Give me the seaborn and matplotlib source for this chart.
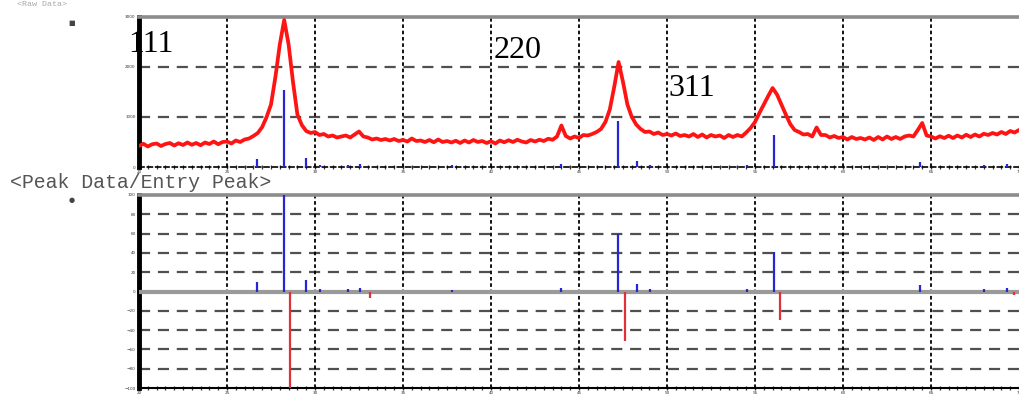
import numpy as np
import pandas as pd
import matplotlib
matplotlib.use("Agg")
import matplotlib.pyplot as plt
import seaborn as sns
from matplotlib.ticker import MultipleLocator

# ---------------- data ----------------
two_theta_start = 20.0
two_theta_step = 0.25
counts = [
    420, 465, 410, 455,   # 20
    470, 420, 460, 480,   # 21
    430, 475, 440, 490,   # 22
    445, 480, 435, 490,   # 23
    460, 510, 455, 500,   # 24
    510, 470, 530, 500,   # 25
    550, 570, 620, 680,   # 26
    800, 1000, 1250, 1800,   # 27
    2450, 2940, 2450, 1700,  # 28
    1050, 840, 720, 680,  # 29
    700, 640, 660, 610,   # 30
    630, 590, 610, 630,   # 31
    590, 650, 710, 610,   # 32
    590, 550, 570, 540,   # 33
    560, 530, 560, 520,   # 34
    540, 510, 570, 520,   # 35
    530, 500, 540, 495,   # 36
    550, 500, 520, 490,   # 37
    525, 480, 530, 490,   # 38
    540, 500, 520, 480,   # 39
    515, 470, 530, 495,   # 40
    535, 500, 545, 510,   # 41
    490, 540, 510, 545,   # 42
    520, 565, 545, 610,   # 43
    830, 620, 570, 610,   # 44
    580, 640, 630, 660,   # 45
    700, 760, 900, 1150,  # 46
    1600, 2100, 1700, 1250,  # 47
    1000, 850, 760, 700,  # 48
    710, 660, 690, 640,   # 49
    660, 630, 670, 620,   # 50
    640, 610, 660, 600,   # 51
    650, 590, 640, 610,   # 52
    630, 580, 640, 600,   # 53
    640, 610, 690, 780,   # 54
    900, 1080, 1250, 1420,  # 55
    1580, 1450, 1250, 1050,  # 56
    860, 740, 700, 650,   # 57
    660, 610, 790, 640,   # 58
    640, 590, 620, 580,   # 59
    600, 550, 600, 560,   # 60
    580, 550, 590, 540,   # 61
    600, 550, 610, 560,   # 62
    600, 560, 610, 630,   # 63
    610, 740, 880, 630,   # 64
    610, 570, 615, 580,   # 65
    625, 580, 630, 590,   # 66
    645, 600, 650, 610,   # 67
    665, 640, 680, 650,   # 68
    700, 660, 720, 690,   # 69
    740,                  # 70
]

# reference pattern (blue sticks), relative intensity %
ref_pos = [26.70, 28.23, 29.48, 30.27, 31.86, 32.54, 37.76, 44.00,
           47.24, 48.32, 49.06, 54.56, 56.09, 64.38, 68.01, 69.32]
ref_int = [10, 100, 12, 3, 3, 4, 2, 4,
           60, 8, 3, 3, 41, 7, 3, 4]
ref_to_counts = 15.4

# entry peaks (red sticks, drawn downward)
entry_pos = [28.57, 33.11, 47.64, 56.43, 69.72]
entry_int = [100, 7, 51, 30, 4]

peak_labels = ["111", "220", "311"]
label_x = [20.68, 41.51, 51.40]
label_y = [2440, 2320, 1580]

x_major = list(range(20, 71, 5))
top_yticks = [0, 1000, 2000, 3000]
bot_yticks = list(range(-100, 101, 20))

# ---------------- figure ----------------
sns.set_theme(style="white")
plt.rcParams['font.family'] = ['DejaVu Sans']

W, H = 1020, 401
fig = plt.figure(figsize=(W / 100, H / 100), dpi=100)
fig.patch.set_facecolor("white")
L, R = 139, 1019
ax1 = fig.add_axes([L / W, (H - 167) / H, (R - L) / W, 150 / H])
ax2 = fig.add_axes([L / W, (H - 388) / H, (R - L) / W, 193 / H])

two_theta = two_theta_start + two_theta_step * np.arange(len(counts))
df = pd.DataFrame({"2theta": two_theta, "counts": counts})
sns.lineplot(data=df, x="2theta", y="counts", ax=ax1, color="#ff1414",
             lw=2.7, zorder=4)
ax1.vlines(ref_pos, 0, np.array(ref_int) * ref_to_counts, color="#2626d6",
           lw=1.6, zorder=5)

ax2.vlines(ref_pos, 0, ref_int, color="#2626d6", lw=1.6, zorder=5)
ax2.vlines(entry_pos, 0, [-v for v in entry_int], color="#e0303a", lw=1.6, zorder=5)

for ax, yt, ylim in ((ax1, top_yticks, (0, 3000)), (ax2, bot_yticks, (-100, 100))):
    ax.set_xlim(20, 70)
    ax.set_ylim(*ylim)
    ax.set_xlabel("")
    ax.set_ylabel("")
    for xv in x_major[1:-1]:
        ax.axvline(xv, color="black", lw=1.3, ls=(0, (2, 1.5)), zorder=2)
    for yv in yt[1:-1]:
        if yv == 0:
            continue
        ax.axhline(yv, color="#505050", lw=1.6, ls=(0, (5, 3.5)), zorder=1)
    ax.set_xticks(x_major)
    ax.set_yticks(yt)
    ax.xaxis.set_minor_locator(MultipleLocator(0.5))
    ax.tick_params(axis="both", which="major", labelsize=3, colors="#333333",
                   length=3, width=1, direction="inout", pad=1)
    ax.tick_params(axis="both", which="minor", length=2.5, width=0.9,
                   direction="inout", colors="#333333")
    ax.tick_params(axis="x", bottom=True, top=False, which="both")
    ax.tick_params(axis="y", left=True, right=False, which="both")
    ax.spines["left"].set_color("black")
    ax.spines["left"].set_linewidth(3.5)
    ax.spines["top"].set_color("#8c8c8c")
    ax.spines["top"].set_linewidth(2.6)
    ax.spines["right"].set_visible(False)
    ax.set_facecolor("white")

ax1.yaxis.set_minor_locator(MultipleLocator(250))
ax2.yaxis.set_minor_locator(MultipleLocator(5))
ax1.spines["bottom"].set_color("black")
ax1.spines["bottom"].set_linewidth(1.2)
ax1.spines["bottom"].set_linestyle((0, (3, 2)))
ax2.spines["bottom"].set_color("black")
ax2.spines["bottom"].set_linewidth(1.5)
ax2.axhline(0, color="#9a9a9a", lw=3, zorder=3)

for t, xv, yv in zip(peak_labels, label_x, label_y):
    ax1.text(xv, yv, t, ha="center", va="center", fontsize=23,
             family="Liberation Serif", color="black", zorder=10, clip_on=False)

fig.text(10 / W, 1 - 183 / H, "<Peak Data/Entry Peak>", ha="left", va="center",
         fontsize=14.3, family="Liberation Mono", color="#555555")
fig.text(17 / W, 1 - 0.5 / H, "<Raw Data>", ha="left", va="top",
         fontsize=6, family="Liberation Mono", color="#a8a8a8")
fig.text(72 / W, 1 - 23 / H, "\u25a0", ha="center", va="center", fontsize=5,
         color="#444444")
fig.text(72 / W, 1 - 200 / H, "\u25cf", ha="center", va="center", fontsize=5,
         color="#444444")

fig.savefig("out.png", dpi=100, facecolor="white")
